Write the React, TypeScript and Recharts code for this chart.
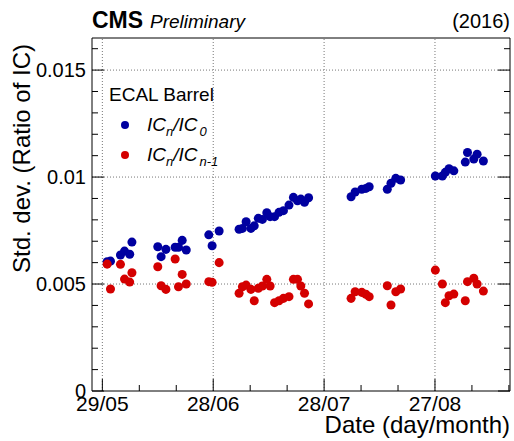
import { ScatterChart, Scatter, XAxis, YAxis, ZAxis, ReferenceLine, Legend } from "recharts";

const FONT = '"Liberation Sans", Arial, Helvetica, sans-serif';
const BLUE = "#0000a0";
const RED = "#d40000";

// days since 29/05/2016
const DAYS = [
  1.3, 2.2, 4.9, 6.0, 7.4, 8.0, 15.0, 15.9, 17.2, 19.7, 20.6, 21.6, 22.7, 28.8, 29.7, 31.6,
  37.0, 37.9, 38.9, 40.2, 41.1, 42.2, 43.3, 44.5, 45.4, 46.6, 47.8, 49.0, 50.5, 51.7, 52.8,
  53.7, 54.7, 55.8, 67.3, 68.4, 70.2, 71.3, 72.2, 77.1, 78.1, 79.4, 80.7, 90.1, 92.0, 92.8,
  93.8, 95.1, 98.2, 98.8, 100.5, 101.4, 103.1,
];

const IC_N_OVER_IC_0 = [
  0.00604, 0.00607, 0.00636, 0.00654, 0.00639, 0.00696, 0.00674, 0.00628, 0.00662, 0.00672,
  0.00672, 0.00704, 0.00659, 0.0073, 0.00679, 0.00748, 0.00756, 0.0076, 0.00791, 0.0076,
  0.00772, 0.00807, 0.00802, 0.00833, 0.00815, 0.00815, 0.00835, 0.00843, 0.00869, 0.00905,
  0.00889, 0.00897, 0.00882, 0.00903, 0.00908, 0.0093, 0.00943, 0.00947, 0.00955, 0.00943,
  0.00971, 0.00994, 0.00986, 0.01005, 0.01005, 0.01022, 0.01039, 0.01029, 0.0107, 0.01115,
  0.01084, 0.01107, 0.01075,
];

const IC_N_OVER_IC_N1 = [
  0.00593, 0.00477, 0.00592, 0.00523, 0.00509, 0.00553, 0.00581, 0.00492, 0.00475, 0.00617,
  0.00487, 0.00545, 0.005, 0.00511, 0.00508, 0.006, 0.00457, 0.00487, 0.00495, 0.00475,
  0.00422, 0.0048, 0.00491, 0.00522, 0.00491, 0.00413, 0.00422, 0.00433, 0.00441, 0.00522,
  0.00522, 0.00491, 0.00457, 0.00407, 0.00433, 0.00464, 0.00461, 0.00452, 0.00441, 0.00492,
  0.00402, 0.00464, 0.00477, 0.00565, 0.005, 0.00413, 0.00445, 0.00453, 0.00422, 0.00511,
  0.00527, 0.005, 0.00467,
];

const X_DOMAIN = [-2.8, 110.3];
const X_TICKS = [0, 10, 20, 30, 40, 50, 60, 70, 80, 90, 100, 110];
const X_MAJOR = [0, 30, 60, 90];
const X_LABELS = ["29/05", "28/06", "28/07", "27/08"];

const Y_DOMAIN = [0, 0.0165];
const Y_TICKS = [
  0, 0.001, 0.002, 0.003, 0.004, 0.005, 0.006, 0.007, 0.008, 0.009, 0.01, 0.011, 0.012, 0.013,
  0.014, 0.015, 0.016,
];
const Y_MAJOR = [0, 0.005, 0.01, 0.015];
const Y_LABELS = ["0", "0.005", "0.01", "0.015"];

const blueData = DAYS.map((d, i) => ({ day: d, v: IC_N_OVER_IC_0[i] }));
const redData = DAYS.map((d, i) => ({ day: d, v: IC_N_OVER_IC_N1[i] }));

const majorIndex = (list: number[], v: number) => list.findIndex((m) => Math.abs(m - v) < 1e-9);

function XTick(props: any) {
  const { x, y, payload, side } = props;
  const idx = majorIndex(X_MAJOR, payload.value);
  const len = idx >= 0 ? 12 : 6;
  const dir = side === "top" ? 1 : -1;
  return (
    <g>
      <line x1={x} x2={x} y1={y} y2={y + dir * len} stroke="#000" strokeWidth={1} />
      {side !== "top" && idx >= 0 && (
        <text x={x} y={y + 20} textAnchor="middle" fontSize={21} fontFamily={FONT} fill="#000">
          {X_LABELS[idx]}
        </text>
      )}
    </g>
  );
}

function YTick(props: any) {
  const { x, y, payload, side } = props;
  const idx = majorIndex(Y_MAJOR, payload.value);
  const len = idx >= 0 ? 12 : 6;
  const dir = side === "right" ? -1 : 1;
  return (
    <g>
      <line x1={x} x2={x + dir * len} y1={y} y2={y} stroke="#000" strokeWidth={1} />
      {side !== "right" && idx >= 0 && (
        <text x={x - 6} y={y + 7} textAnchor="end" fontSize={20} fontFamily={FONT} fill="#000">
          {Y_LABELS[idx]}
        </text>
      )}
    </g>
  );
}

function Header(props: any) {
  const vb = props.viewBox;
  const base = vb.y + 20;
  return (
    <g fontFamily={FONT} fill="#000">
      <text x={vb.x} y={base} fontSize={23} fontWeight="bold">CMS</text>
      <text x={vb.x + 58} y={base} fontSize={19} fontStyle="italic">Preliminary</text>
      <text x={vb.x + vb.width} y={base} fontSize={20} textAnchor="end">(2016)</text>
    </g>
  );
}

function XTitle(props: any) {
  const vb = props.viewBox;
  return (
    <text x={vb.x + vb.width} y={vb.y + 42} textAnchor="end" fontSize={24} fontFamily={FONT} fill="#000">
      Date (day/month)
    </text>
  );
}

function YTitle(props: any) {
  const vb = props.viewBox;
  const x = vb.x + 30;
  const y = vb.y + 6;
  return (
    <text x={x} y={y} transform={`rotate(-90, ${x}, ${y})`} textAnchor="end" fontSize={24} fontFamily={FONT} fill="#000">
      Std. dev. (Ratio of IC)
    </text>
  );
}

function Ratio({ y, sub }: { y: number; sub: string }) {
  return (
    <text x={47} y={y} fontSize={19} fontStyle="italic" fontFamily={FONT} fill="#000">
      <tspan>IC</tspan>
      <tspan dy={5} fontSize={13}>n</tspan>
      <tspan dy={-5}>/IC</tspan>
      <tspan dy={5} dx={2} fontSize={13}>{sub}</tspan>
    </text>
  );
}

function LegendBox() {
  return (
    <svg width={150} height={95}>
      <text x={9} y={23} fontSize={19} fontFamily={FONT} fill="#000">ECAL Barrel</text>
      <circle cx={25} cy={47} r={4} fill={BLUE} />
      <Ratio y={53} sub="0" />
      <circle cx={25} cy={77} r={4} fill={RED} />
      <Ratio y={83} sub="n-1" />
    </svg>
  );
}

export default function App() {
  return (
    <div style={{ position: "absolute", left: 0, top: 0, width: 514, height: 441, background: "#fff" }}>
      <ScatterChart width={514} height={441} margin={{ top: 8, right: 0, bottom: 0, left: 0 }}>
        <XAxis
          dataKey="day"
          type="number"
          domain={X_DOMAIN}
          allowDataOverflow
          ticks={X_TICKS}
          interval={0}
          height={50}
          tickSize={0}
          tickMargin={0}
          tickLine={false}
          axisLine={{ stroke: "#000" }}
          tick={<XTick side="bottom" />}
          label={XTitle}
        />
        <XAxis
          xAxisId="top"
          orientation="top"
          type="number"
          domain={X_DOMAIN}
          allowDataOverflow
          ticks={X_TICKS}
          interval={0}
          height={30}
          tickSize={0}
          tickMargin={0}
          tickLine={false}
          axisLine={{ stroke: "#000" }}
          tick={<XTick side="top" />}
          label={Header}
        />
        <YAxis
          dataKey="v"
          type="number"
          domain={Y_DOMAIN}
          allowDataOverflow
          ticks={Y_TICKS}
          interval={0}
          width={92}
          tickSize={0}
          tickMargin={0}
          tickLine={false}
          axisLine={{ stroke: "#000" }}
          tick={<YTick side="left" />}
          label={YTitle}
        />
        <YAxis
          yAxisId="right"
          orientation="right"
          type="number"
          domain={Y_DOMAIN}
          allowDataOverflow
          ticks={Y_TICKS}
          interval={0}
          width={4}
          tickSize={0}
          tickMargin={0}
          tickLine={false}
          axisLine={{ stroke: "#000" }}
          tick={<YTick side="right" />}
        />
        <ZAxis range={[50, 50]} />
        {X_MAJOR.map((d) => (
          <ReferenceLine key={`x${d}`} x={d} stroke="#777" strokeDasharray="1 2" />
        ))}
        {Y_MAJOR.slice(1).map((v) => (
          <ReferenceLine key={`y${v}`} y={v} stroke="#777" strokeDasharray="1 2" />
        ))}
        <Legend
          layout="vertical"
          verticalAlign="middle"
          align="center"
          wrapperStyle={{ left: 100, top: 78, width: 150, height: 95 }}
          content={<LegendBox />}
        />
        <Scatter name="ICn/IC0" data={blueData} fill={BLUE} isAnimationActive={false} />
        <Scatter name="ICn/ICn-1" data={redData} fill={RED} isAnimationActive={false} />
      </ScatterChart>
    </div>
  );
}
